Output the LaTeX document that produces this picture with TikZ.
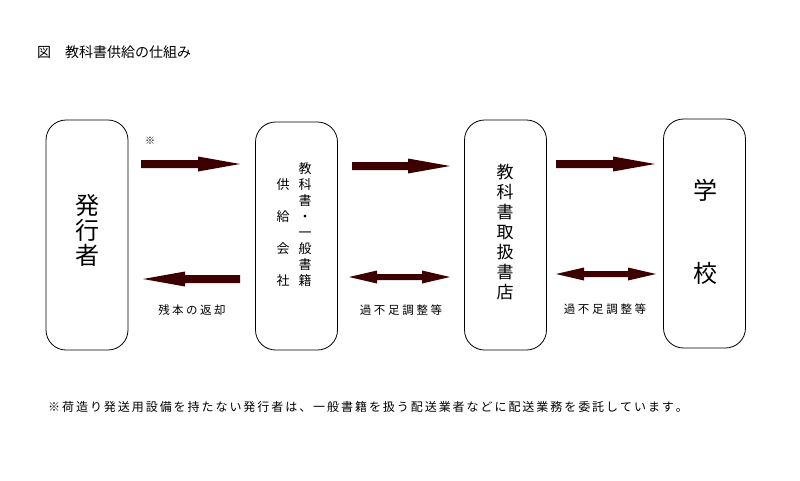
\documentclass[tikz,border=0pt]{standalone}
\usepackage{fontspec}
\setmainfont{Noto Sans CJK JP}
\usetikzlibrary{calc}
\definecolor{arrowcol}{RGB}{60,0,0}
\makeatletter
\newcommand\Spread[2]{\@tfor\sp@c:=#2\do{\makebox[#1]{\sp@c}}}
\makeatother
% single fat arrow: #1 start, #2 tip, #3 direction (1 right, -1 left)
\newcommand\SingleArrow[3]{%
  \fill[arrowfill] ($(#1)+(0,-4)$) -- ($(#2)+({-42*(#3)},-4)$) -- ($(#2)+({-42*(#3)},-7.5)$) -- (#2)
    -- ($(#2)+({-42*(#3)},7.5)$) -- ($(#2)+({-42*(#3)},4)$) -- ($(#1)+(0,4)$) -- cycle;}
% double arrow: #1 left tip, #2 right tip
\newcommand\DoubleArrow[2]{%
  \fill[arrowfill] (#1) -- ($(#1)+(28,-6.5)$) -- ($(#1)+(28,-3)$) -- ($(#2)+(-28,-3)$) -- ($(#2)+(-28,-6.5)$)
    -- (#2) -- ($(#2)+(-28,6.5)$) -- ($(#2)+(-28,3)$) -- ($(#1)+(28,3)$) -- ($(#1)+(28,6.5)$) -- cycle;}
\tikzset{
  box/.style={draw=black, line width=0.8pt, rounded corners=20pt, minimum width=82pt, inner sep=0pt},
  arrowfill/.style={fill=arrowcol},
  lbl/.style={inner sep=0pt, font=\fontsize{11.5}{12}\selectfont},
  vtext/.style={inner sep=0pt, align=center},
}
\begin{document}
\begin{tikzpicture}[x=1pt,y=-1pt]
\useasboundingbox (0,0) rectangle (800,480);
% title
\node[anchor=west, inner sep=0pt, font=\fontsize{14}{14}\selectfont] (title) at (37,52) {図　教科書供給の仕組み};
% boxes
\node[box, minimum height=230pt] (b1) at (87,235) {};
\node[box, minimum height=228pt] (b2) at (296.5,236) {};
\node[box, minimum height=230pt] (b3) at (505.5,235) {};
\node[box, minimum height=229pt] (b4) at (704.5,233.5) {};
% box texts
\node[vtext, font=\fontsize{24}{25}\selectfont] (t1) at (87,230) {発\\行\\者};
\node[vtext, font=\fontsize{13}{16}\selectfont] (t2r) at (305,225) {教\\科\\書\\・\\一\\般\\書\\籍};
\node[vtext, font=\fontsize{13}{16}\selectfont] (t2l) at (283,225) {\phantom{供}\\供\\\phantom{供}\\給\\\phantom{供}\\会\\\phantom{供}\\社};
\node[vtext, font=\fontsize{17}{20}\selectfont] (t3) at (505,232.5) {教\\科\\書\\取\\扱\\書\\店};
\node[vtext, font=\fontsize{24}{83}\selectfont] (t4) at (705,231.5) {学\\校};
% arrows
\coordinate (a1s) at (141,164); \coordinate (a1e) at (240,164);
\coordinate (a2s) at (240,279); \coordinate (a2e) at (143,279);
\coordinate (a3s) at (352,166); \coordinate (a3e) at (450,166);
\coordinate (a4s) at (349,277); \coordinate (a4e) at (450,277);
\coordinate (a5s) at (556,164); \coordinate (a5e) at (655,164);
\coordinate (a6s) at (556,274); \coordinate (a6e) at (656,274);
\SingleArrow{a1s}{a1e}{1}
\SingleArrow{a2s}{a2e}{-1}
\SingleArrow{a3s}{a3e}{1}
\DoubleArrow{a4s}{a4e}
\SingleArrow{a5s}{a5e}{1}
\DoubleArrow{a6s}{a6e}
% labels
\node[inner sep=0pt, font=\fontsize{10}{10}\selectfont] (mark) at (150,141) {※};
\node[lbl] (l1) at (192,310) {\Spread{14pt}{残本の返却}};
\node[lbl] (l2) at (401,310) {\Spread{14.2pt}{過不足調整等}};
\node[lbl] (l3) at (605,309) {\Spread{14.2pt}{過不足調整等}};
% footnote
\node[anchor=west, inner sep=0pt, font=\fontsize{12}{12}\selectfont] (foot) at (47,407) {\Spread{13.95pt}{※荷造り発送用設備を持たない発行者は、一般書籍を扱う配送業者などに配送業務を委託しています。}};
\end{tikzpicture}
\end{document}
